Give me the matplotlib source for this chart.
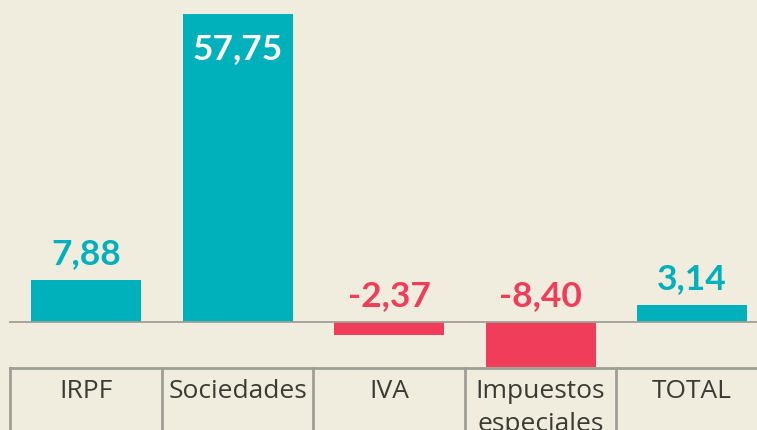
import matplotlib.pyplot as plt

categories = ["IRPF", "Sociedades", "IVA", "Impuestos\nespeciales", "TOTAL"]
values = [7.88, 57.75, -2.37, -8.40, 3.14]
labels = ["7,88", "57,75", "-2,37", "-8,40", "3,14"]

bg = "#f0eddf"
teal = "#00b0bb"
red = "#ef3d5a"
grid = "#a09f96"
txt = "#3b3a33"

fig = plt.figure(figsize=(7.57, 4.30), dpi=100, facecolor=bg)
ax = fig.add_axes([0, 0, 1, 1])
ax.set_facecolor(bg)
ax.set_xlim(-0.5677, 4.429)
ax.set_ylim(-20.25, 60.375)
ax.axis("off")

x = list(range(len(values)))
colors = [teal if v >= 0 else red for v in values]
ax.bar(x, values, width=0.726, color=colors, zorder=2)

# zero line
ax.plot([-0.5, 4.429], [0, 0], color=grid, lw=1.3, zorder=3)

# label table
table_top = -8.625
ax.plot([-0.5, 4.429], [table_top, table_top], color=grid, lw=2, zorder=3)
for i in range(len(values)):
    ax.plot([i - 0.5, i - 0.5], [table_top, -21], color=grid, lw=2, zorder=3)

for i, (cat, v, lab) in enumerate(zip(categories, values, labels)):
    ax.text(i, -10.6, cat, ha="center", va="top", fontsize=19,
            family="Open Sans", color=txt, linespacing=1.45)
    if v > 40:
        ax.text(i, v - 3.5, lab, ha="center", va="top", fontsize=25.5,
                family="Lato", weight="bold", color="white")
    else:
        ax.text(i, max(v, 0) + 1.9, lab, ha="center", va="bottom", fontsize=25.5,
                family="Lato", weight="bold", color=teal if v >= 0 else red)

fig.savefig("out.png", dpi=100, facecolor=bg)
